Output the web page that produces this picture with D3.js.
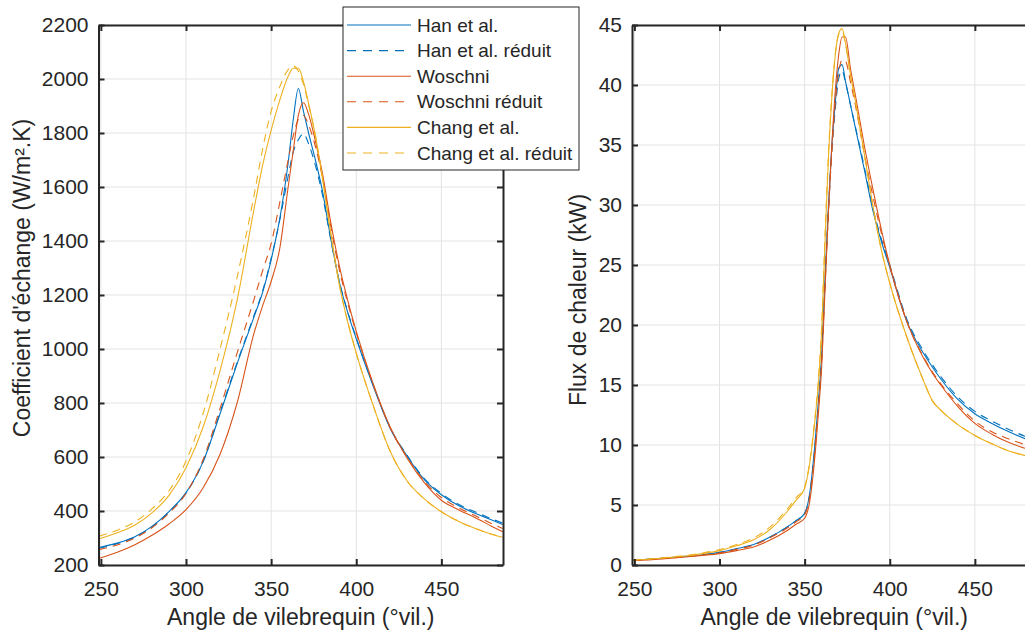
<!DOCTYPE html>
<html><head><meta charset="utf-8">
<script src="https://cdn.jsdelivr.net/npm/d3@7"></script>
<style>
body{margin:0;background:#fff;}
text{font-family:"Liberation Sans",Arial,Helvetica,sans-serif;fill:#262626;}
</style>
</head><body>
<svg id="c" width="1025" height="633"></svg>
<script>
// ---- data (left: heat-transfer coefficient, W/m².K) ----
const anglesL = [249,260,270,280,290,300,310,320,330,340,345,350,355,360,363,366,369,372,376,380,385,390,395,400,410,420,430,440,450,460,470,480,486];
const hanL    = [265,282,305,343,398,468,582,760,945,1120,1210,1330,1480,1690,1850,1965,1880,1800,1700,1590,1410,1250,1135,1038,862,705,602,516,460,420,391,366,350];
const hanRedL = [262,280,303,341,396,466,582,765,950,1125,1215,1335,1475,1640,1730,1775,1798,1760,1680,1575,1405,1252,1138,1042,866,708,605,520,465,425,396,370,355];
const wosL    = [225,248,275,310,352,405,485,610,800,1060,1160,1250,1370,1600,1735,1865,1912,1870,1770,1655,1470,1310,1180,1065,870,710,595,505,440,405,375,342,323];
const wosRedL = [257,275,300,338,392,465,590,780,985,1185,1290,1390,1540,1700,1790,1850,1865,1830,1750,1640,1455,1295,1170,1060,868,707,597,510,450,412,382,352,335];
const chaL    = [297,320,348,393,458,560,710,920,1180,1520,1680,1810,1920,2010,2040,2040,1990,1910,1790,1640,1430,1240,1100,985,790,620,510,445,397,362,335,313,303];
const chaRedL = [307,330,360,408,475,585,760,1000,1265,1570,1740,1880,1970,2035,2048,2030,1980,1905,1790,1640,1430,1240,1100,985,790,620,510,445,397,362,335,313,303];

// ---- data (right: heat flux, kW) ----
const anglesR = [249,260,270,280,290,300,310,320,330,340,345,350,353,356,358,360,362,364,366,368,370,372,374,377,380,385,390,395,400,410,420,425,430,440,450,460,470,480,486];
const hanR    = [0.4,0.5,0.6,0.72,0.85,1.05,1.35,1.7,2.35,3.2,3.7,4.3,6.0,10.0,13.5,17.5,24,30,35,38.5,41.4,41.7,40.3,38.3,36.3,33.0,29.6,27.0,24.8,20.3,17.6,16.5,15.5,13.8,12.6,11.8,11.1,10.5,10.2];
const hanRedR = [0.4,0.5,0.6,0.72,0.85,1.05,1.35,1.7,2.35,3.2,3.7,4.3,5.9,9.8,13.3,17.3,23.5,29.5,34.5,38,40.5,41.2,40.2,38.3,36.4,33.2,29.8,27.2,25.0,20.5,17.8,16.7,15.7,14.0,12.8,12.0,11.3,10.7,10.4];
const wosR    = [0.35,0.45,0.55,0.67,0.8,0.95,1.2,1.5,2.1,2.9,3.4,3.9,5.3,9.0,12.5,16.5,23,29.5,35,39.5,42.5,44.0,44.0,41.3,39.0,35,31.4,28.0,25.0,20.3,17.2,16.0,15.0,13.2,11.8,10.9,10.2,9.7,9.4];
const wosRedR = [0.37,0.47,0.57,0.7,0.83,1.0,1.3,1.65,2.3,3.1,3.6,4.2,5.7,9.5,13.0,17.0,23.5,29.5,34.5,38.5,41,42.1,42,40.2,38.2,34.3,30.8,27.7,24.9,20.3,17.3,16.1,15.1,13.4,12.0,11.1,10.5,10.0,9.7];
const chaR    = [0.4,0.5,0.62,0.75,0.95,1.2,1.6,2.1,3.0,4.5,5.4,6.4,8.5,12,15,19.5,27,34,39,42.5,44.3,44.7,43.5,40.8,38.5,34.3,30,26.3,23.5,19.0,15.3,13.7,12.9,11.7,10.8,10.1,9.5,9.1,8.9];
const chaRedR = [0.42,0.52,0.65,0.8,1.0,1.28,1.7,2.25,3.2,4.7,5.6,6.5,8.6,12.2,15.3,20,27.5,34.3,39.2,42.6,44.2,44.5,43.4,40.8,38.5,34.3,30,26.3,23.5,19.0,15.3,13.7,12.9,11.7,10.8,10.1,9.5,9.1,8.9];

const seriesNames = ["Han et al.","Han et al. réduit","Woschni","Woschni réduit","Chang et al.","Chang et al. réduit"];
const seriesColors = ["#0072BD","#0072BD","#D95319","#D95319","#EDB120","#EDB120"];
const seriesDashed = [false,true,false,true,false,true];
const xTicks = [250,300,350,400,450];
const yTicksL = [200,400,600,800,1000,1200,1400,1600,1800,2000,2200];
const yTicksR = [0,5,10,15,20,25,30,35,40,45];
const xDomain = [248.6,486.2];
const xLabel = "Angle de vilebrequin (°vil.)";

const svg = d3.select("#c");
svg.append("rect").attr("width",1025).attr("height",633).attr("fill","#fff");
const plotTop = 25, plotBottom = 565;
const axisColor = "#262626";

function panel(id, left, width, angles, data, yDomain, yTicks, yLabel, yLabelX, yLabelY){
  const x = d3.scaleLinear().domain(xDomain).range([left, left+width]);
  const y = d3.scaleLinear().domain(yDomain).range([plotBottom, plotTop]);
  const g = svg.append("g");
  g.append("clipPath").attr("id","clip"+id).append("rect")
    .attr("x",left).attr("y",plotTop).attr("width",width).attr("height",plotBottom-plotTop);
  // grid
  g.append("g").selectAll("line").data(xTicks).join("line")
    .attr("x1",d=>x(d)).attr("x2",d=>x(d)).attr("y1",plotTop).attr("y2",plotBottom)
    .attr("stroke","#e3e3e3").attr("stroke-width",1);
  g.append("g").selectAll("line").data(yTicks).join("line")
    .attr("y1",d=>y(d)).attr("y2",d=>y(d)).attr("x1",left).attr("x2",left+width)
    .attr("stroke","#e3e3e3").attr("stroke-width",1);
  // curves
  const line = d3.line().x(d=>x(d[0])).y(d=>y(d[1])).curve(d3.curveMonotoneX);
  const cg = g.append("g").attr("clip-path","url(#clip"+id+")");
  data.forEach((vals,i)=>{
    cg.append("path").datum(angles.map((a,k)=>[a,vals[k]]))
      .attr("d",line).attr("fill","none")
      .attr("stroke",seriesColors[i]).attr("stroke-width",1.1)
      .attr("stroke-dasharray",seriesDashed[i]?"8,6":null);
  });
  // axes
  const styleAxis = (sel, labels)=>{
    sel.select(".domain").attr("stroke",axisColor).attr("stroke-width",2);
    sel.selectAll(".tick line").attr("stroke",axisColor).attr("stroke-width",2);
    sel.selectAll(".tick text").attr("font-size",21).attr("fill",axisColor)
      .style("display",labels?null:"none");
  };
  g.append("g").attr("transform",`translate(0,${plotBottom})`)
    .call(d3.axisBottom(x).tickValues(xTicks).tickSize(-6).tickSizeOuter(0).tickPadding(16).tickFormat(d3.format("d")))
    .call(s=>styleAxis(s,true));
  g.append("g").attr("transform",`translate(0,${plotTop})`)
    .call(d3.axisTop(x).tickValues(xTicks).tickSize(-6).tickSizeOuter(0))
    .call(s=>styleAxis(s,false));
  g.append("g").attr("transform",`translate(${left},0)`)
    .call(d3.axisLeft(y).tickValues(yTicks).tickSize(-6).tickSizeOuter(0).tickPadding(10).tickFormat(d3.format("d")))
    .call(s=>styleAxis(s,true));
  g.append("g").attr("transform",`translate(${left+width},0)`)
    .call(d3.axisRight(y).tickValues(yTicks).tickSize(-6).tickSizeOuter(0))
    .call(s=>styleAxis(s,false));
  g.selectAll("text").attr("font-family",'"Liberation Sans",Arial,sans-serif');
  // labels
  g.append("text").attr("x",left+width/2).attr("y",625).attr("text-anchor","middle")
    .attr("font-size",23).text(xLabel);
  g.append("text").attr("transform",`translate(${yLabelX},${yLabelY}) rotate(-90)`)
    .attr("text-anchor","middle").attr("font-size",23).text(yLabel);
}

panel("L", 98.5, 404.5, anglesL, [hanL,hanRedL,wosL,wosRedL,chaL,chaRedL], [200,2200], yTicksL, "Coefficient d'échange (W/m².K)", 30, 278);
panel("R", 632, 404.5, anglesR, [hanR,hanRedR,wosR,wosRedR,chaR,chaRedR], [0,45], yTicksR, "Flux de chaleur (kW)", 586, 300);

// legend
const lg = svg.append("g");
lg.append("rect").attr("x",343).attr("y",7).attr("width",236).attr("height",163)
  .attr("fill","#fff").attr("stroke","#262626").attr("stroke-width",1);
seriesNames.forEach((n,i)=>{
  const yy = 25 + i*25.6;
  lg.append("line").attr("x1",347).attr("x2",411).attr("y1",yy).attr("y2",yy)
    .attr("stroke",seriesColors[i]).attr("stroke-width",1.1)
    .attr("stroke-dasharray",seriesDashed[i]?"9,7":null);
  lg.append("text").attr("x",417).attr("y",yy).attr("dy","0.35em")
    .attr("font-size",19).text(n);
});
</script>
</body></html>
